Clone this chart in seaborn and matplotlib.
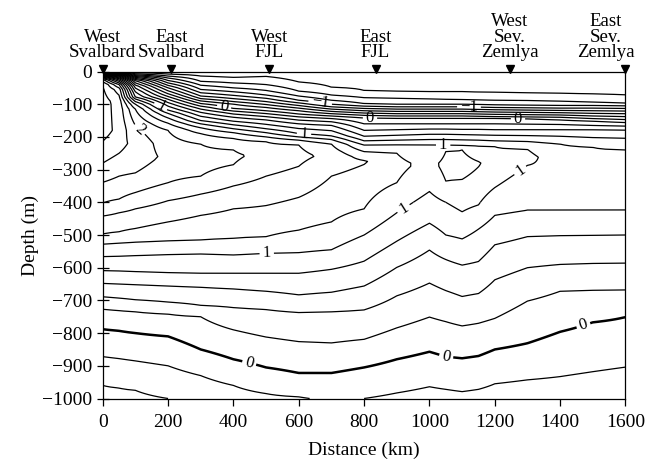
import numpy as np
import matplotlib
matplotlib.use("Agg")
import matplotlib.pyplot as plt
import seaborn as sns

# ---------------- data ----------------
# Temperature profiles (depth m, temperature degC) at section distances (km)
p0000 = [(0,-1.7),(6,-0.6),(12,0.6),(18,1.5),(26,2.1),(40,2.4),(100,2.5),(180,2.5),(280,2.2),(339,2.0),(402,1.8),(442,1.6),(497,1.4),(528,1.2),(566,1.0),(609,0.8),(648,0.6),(689,0.4),(727,0.2),(788,0.0),(872,-0.2),(960,-0.4),(1000,-0.45)]
p0050 = [(0,-1.75),(3,-1.2),(8,-0.4),(14,0.4),(22,1.0),(30,1.4),(40,1.8),(55,2.1),(90,2.3),(180,2.33),(250,2.2),(320,2.0),(390,1.8),(432,1.6),(490,1.4),(525,1.2),(565,1.0),(610,0.8),(650,0.6),(693,0.4),(731,0.2),(793,0.0),(878,-0.2),(968,-0.4),(1000,-0.44)]
p0100 = [(0,-1.75),(4,-1.6),(10,-1.2),(18,-0.6),(28,0.0),(45,0.5),(62,0.8),(78,1.0),(84,1.2),(92,1.4),(100,1.6),(115,1.8),(165,2.0),(220,2.15),(270,2.1),(310,2.0),(370,1.8),(420,1.6),(480,1.4),(522,1.2),(563,1.0),(612,0.8),(652,0.6),(698,0.4),(735,0.2),(800,0.0),(885,-0.2),(975,-0.4),(1000,-0.43)]
p0200 = [(0,-1.75),(8,-1.6),(20,-1.2),(35,-0.8),(50,-0.4),(68,0.0),(85,0.4),(100,0.7),(118,1.0),(128,1.2),(142,1.4),(158,1.6),(180,1.8),(260,1.95),(340,1.8),(395,1.6),(460,1.4),(518,1.2),(560,1.0),(615,0.8),(656,0.6),(705,0.4),(742,0.2),(810,0.0),(900,-0.2),(1000,-0.4)]
p0300 = [(0,-1.75),(14,-1.6),(30,-1.4),(42,-1.2),(55,-1.0),(65,-0.8),(75,-0.6),(83,-0.4),(90,-0.2),(98,0.0),(110,0.3),(125,0.6),(140,0.85),(150,1.0),(160,1.2),(172,1.4),(190,1.6),(222,1.8),(270,1.88),(320,1.8),(375,1.6),(440,1.4),(515,1.2),(558,1.0),(617,0.8),(660,0.6),(715,0.4),(750,0.2),(850,0.0),(930,-0.2),(1000,-0.33)]
p0400 = [(0,-1.75),(18,-1.6),(35,-1.4),(50,-1.2),(62,-1.0),(73,-0.8),(83,-0.6),(92,-0.4),(100,-0.2),(113,0.0),(125,0.3),(140,0.6),(155,0.85),(163,1.0),(175,1.2),(187,1.4),(205,1.6),(240,1.8),(260,1.83),(285,1.8),(350,1.6),(420,1.4),(510,1.2),(561,1.0),(617,0.8),(665,0.6),(722,0.4),(790,0.2),(880,0.0),(960,-0.2),(1000,-0.26)]
p0500 = [(0,-1.75),(15,-1.6),(40,-1.4),(58,-1.2),(72,-1.0),(82,-0.8),(92,-0.6),(101,-0.4),(110,-0.2),(120,0.0),(133,0.3),(148,0.6),(165,0.85),(175,1.0),(187,1.2),(200,1.4),(215,1.6),(255,1.75),(320,1.6),(410,1.4),(505,1.2),(556,1.0),(617,0.8),(672,0.6),(728,0.4),(812,0.2),(905,0.0),(985,-0.2),(1000,-0.22)]
p0600 = [(0,-1.75),(32,-1.6),(60,-1.4),(75,-1.2),(88,-1.0),(96,-0.8),(104,-0.6),(112,-0.4),(120,-0.2),(130,0.0),(143,0.3),(160,0.6),(178,0.85),(190,1.0),(200,1.2),(210,1.4),(225,1.6),(255,1.65),(290,1.6),(385,1.4),(485,1.2),(554,1.0),(617,0.8),(683,0.6),(737,0.4),(826,0.2),(922,0.0),(995,-0.2),(1000,-0.21)]
p0700 = [(0,-1.75),(48,-1.6),(72,-1.4),(88,-1.2),(100,-1.0),(108,-0.8),(115,-0.6),(122,-0.4),(129,-0.2),(136,0.0),(148,0.3),(165,0.6),(185,0.85),(197,1.0),(208,1.2),(222,1.4),(260,1.55),(320,1.4),(460,1.2),(545,1.0),(605,0.8),(675,0.6),(735,0.4),(830,0.2),(922,0.0),(1000,-0.18)]
p0800 = [(0,-1.75),(58,-1.6),(80,-1.4),(98,-1.2),(106,-1.0),(113,-0.8),(120,-0.6),(127,-0.4),(134,-0.2),(142,0.0),(160,0.2),(180,0.4),(198,0.6),(212,0.8),(225,1.0),(245,1.2),(275,1.42),(330,1.3),(420,1.2),(500,1.0),(580,0.8),(656,0.6),(729,0.4),(819,0.2),(905,0.0),(1000,-0.2)]
p0900 = [(0,-1.75),(60,-1.6),(82,-1.4),(100,-1.2),(108,-1.0),(115,-0.8),(122,-0.6),(129,-0.4),(136,-0.2),(143,0.0),(160,0.2),(178,0.4),(195,0.6),(210,0.8),(224,1.0),(250,1.2),(290,1.25),(340,1.2),(432,1.0),(519,0.8),(599,0.6),(686,0.4),(784,0.2),(880,0.0),(983,-0.2),(1000,-0.23)]
p1000 = [(0,-1.75),(62,-1.6),(84,-1.4),(100,-1.2),(108,-1.0),(115,-0.8),(122,-0.6),(129,-0.4),(136,-0.2),(143,0.0),(160,0.2),(176,0.4),(192,0.6),(208,0.8),(224,1.0),(280,1.15),(367,1.0),(464,0.8),(546,0.6),(647,0.4),(751,0.2),(857,0.0),(964,-0.2),(1000,-0.26)]
p1050 = [(0,-1.75),(62,-1.6),(85,-1.4),(100,-1.2),(108,-1.0),(115,-0.8),(122,-0.6),(129,-0.4),(136,-0.2),(143,0.0),(160,0.2),(176,0.4),(192,0.6),(208,0.8),(225,1.0),(245,1.2),(290,1.25),(335,1.2),(400,1.0),(500,0.8),(575,0.6),(670,0.4),(765,0.2),(872,0.0),(972,-0.2),(1000,-0.25)]
p1100 = [(0,-1.75),(62,-1.6),(86,-1.4),(100,-1.2),(108,-1.0),(115,-0.8),(122,-0.6),(129,-0.4),(136,-0.2),(143,0.0),(160,0.2),(177,0.4),(193,0.6),(209,0.8),(226,1.0),(240,1.2),(285,1.3),(330,1.2),(429,1.0),(512,0.8),(592,0.6),(688,0.4),(778,0.2),(877,0.0),(979,-0.2),(1000,-0.24)]
p1150 = [(0,-1.75),(63,-1.6),(87,-1.4),(101,-1.2),(109,-1.0),(116,-0.8),(123,-0.6),(130,-0.4),(137,-0.2),(143,0.0),(160,0.2),(177,0.4),(194,0.6),(210,0.8),(228,1.0),(280,1.22),(408,1.0),(482,0.8),(581,0.6),(679,0.4),(770,0.2),(870,0.0),(972,-0.2),(1000,-0.25)]
p1200 = [(0,-1.75),(64,-1.6),(88,-1.4),(102,-1.2),(110,-1.0),(117,-0.8),(124,-0.6),(131,-0.4),(138,-0.2),(143,0.0),(160,0.2),(178,0.4),(195,0.6),(212,0.8),(230,1.0),(290,1.1),(355,1.0),(440,0.8),(530,0.6),(637,0.4),(755,0.2),(850,0.0),(955,-0.2),(1000,-0.27)]
p1300 = [(0,-1.75),(65,-1.6),(89,-1.4),(103,-1.2),(111,-1.0),(118,-0.8),(125,-0.6),(132,-0.4),(139,-0.2),(145,0.0),(161,0.2),(178,0.4),(196,0.6),(214,0.8),(238,1.0),(262,1.05),(287,1.0),(424,0.8),(505,0.6),(600,0.4),(702,0.2),(831,0.0),(943,-0.2),(1000,-0.3)]
p1400 = [(0,-1.75),(67,-1.6),(91,-1.4),(104,-1.2),(112,-1.0),(119,-0.8),(126,-0.6),(133,-0.4),(140,-0.2),(148,0.0),(162,0.2),(178,0.4),(198,0.6),(222,0.8),(290,0.97),(424,0.8),(502,0.6),(590,0.4),(672,0.2),(796,0.0),(933,-0.2),(1000,-0.3)]
p1500 = [(0,-1.75),(69,-1.6),(94,-1.4),(104,-1.2),(112,-1.0),(120,-0.8),(128,-0.6),(136,-0.4),(144,-0.2),(152,0.0),(165,0.2),(178,0.4),(202,0.6),(232,0.8),(310,0.92),(424,0.8),(501,0.6),(587,0.4),(669,0.2),(767,0.0),(918,-0.2),(1000,-0.32)]
p1600 = [(0,-1.75),(72,-1.6),(97,-1.4),(105,-1.2),(113,-1.0),(121,-0.8),(129,-0.6),(138,-0.4),(147,-0.2),(156,0.0),(167,0.2),(179,0.4),(204,0.6),(240,0.8),(320,0.9),(424,0.8),(500,0.6),(586,0.4),(668,0.2),(751,0.0),(904,-0.2),(1000,-0.33)]

distance_km = [0, 50, 100, 200, 300, 400, 500, 600, 700, 800, 900, 1000,
               1050, 1100, 1150, 1200, 1300, 1400, 1500, 1600]
profiles = [p0000, p0050, p0100, p0200, p0300, p0400, p0500, p0600, p0700,
            p0800, p0900, p1000, p1050, p1100, p1150, p1200, p1300, p1400,
            p1500, p1600]

station_km = [0, 210, 510, 835, 1245, 1600]
station_names = ["West\nSvalbard", "East\nSvalbard", "West\nFJL", "East\nFJL",
                 "West\nSev.\nZemlya", "East\nSev.\nZemlya"]
station_label_km = [0, 210, 510, 835, 1245, 1540]

minor_levels = [-1.8, -1.6, -1.4, -1.2, -0.8, -0.6, -0.4, -0.2, 0.2, 0.4, 0.6,
                0.8, 1.2, 1.4, 1.6, 1.8, 2.2, 2.4]
major_levels = [-1, 0, 1, 2]
split_depth = 400  # 0 isotherm drawn heavy below this depth

upper_label_positions = [(175, -111), (371, -111), (665, -100), (616, -192),
                         (111, -180), (1121, -108), (818, -143), (1271, -143),
                         (1042, -225), (1276, -300)]
lower_label_positions = [(920, -418), (502, -555), (448, -893), (1051, -873),
                         (1473, -782)]

x_ticks = [0, 200, 400, 600, 800, 1000, 1200, 1400, 1600]
y_ticks = [0, -100, -200, -300, -400, -500, -600, -700, -800, -900, -1000]

# ---------------- build grid for contouring ----------------
depth_grid = np.arange(0, 1000.1, 2.5)
temp_grid = np.column_stack([
    np.interp(depth_grid, [d for d, _ in p], [t for _, t in p]) for p in profiles
])

# ---------------- style ----------------
sns.set_theme(style="ticks")
plt.rcParams["font.family"] = ["Liberation Serif", "DejaVu Serif"]
plt.rcParams["axes.unicode_minus"] = True

fig = plt.figure(figsize=(6.51, 4.63), dpi=100)
W, H = 651, 463
left, right, top, bottom = 102.7, 625.5, 71.5, 398.5
ax = fig.add_axes([left / W, 1 - bottom / H, (right - left) / W, (bottom - top) / H])

X, Y = np.meshgrid(distance_km, -depth_grid)
ax.contour(X, Y, temp_grid, levels=minor_levels, colors="black",
           linewidths=0.9, linestyles="solid")

up = depth_grid <= split_depth
lo = depth_grid >= split_depth
cs_up = ax.contour(X[up], Y[up], temp_grid[up], levels=major_levels,
                   colors="black", linewidths=0.9, linestyles="solid")
cs_lo = ax.contour(X[lo], Y[lo], temp_grid[lo], levels=[0, 1],
                   colors="black", linewidths=[1.8, 0.9], linestyles="solid")


def fmt(v):
    return f"{v:.0f}".replace("-", "\u2212")


ax.clabel(cs_up, manual=upper_label_positions, inline=True, inline_spacing=3,
          fmt=fmt, fontsize=12)
ax.clabel(cs_lo, manual=lower_label_positions, inline=True, inline_spacing=3,
          fmt=fmt, fontsize=12)

ax.set_xlim(0, 1600)
ax.set_ylim(-1000, 0)
ax.set_xticks(x_ticks)
ax.set_yticks(y_ticks)
ax.tick_params(axis="y", direction="inout", length=9, width=0.9,
               labelsize=14, pad=3, color="black", labelcolor="black")
ax.tick_params(axis="x", direction="out", length=5, width=0.9,
               labelsize=14, pad=6, color="black", labelcolor="black")
for s in ax.spines.values():
    s.set_visible(True)
    s.set_linewidth(0.9)
    s.set_color("black")

ax.set_xlabel("Distance (km)", fontsize=14, labelpad=7.5, color="black")
ax.set_ylabel("Depth (m)", fontsize=14, labelpad=2, color="black")

# station markers and names
ax.plot(station_km, [9] * len(station_km), linestyle="none", marker="v",
        markersize=5.5, color="black", clip_on=False, zorder=5)
for xk, name in zip(station_label_km, station_names):
    ax.annotate(name, xy=(xk, 0), xytext=(0, 7.5), textcoords="offset points",
                ha="center", va="bottom", fontsize=13.6, linespacing=0.88,
                color="black", annotation_clip=False)

fig.savefig("out.png", dpi=100)
